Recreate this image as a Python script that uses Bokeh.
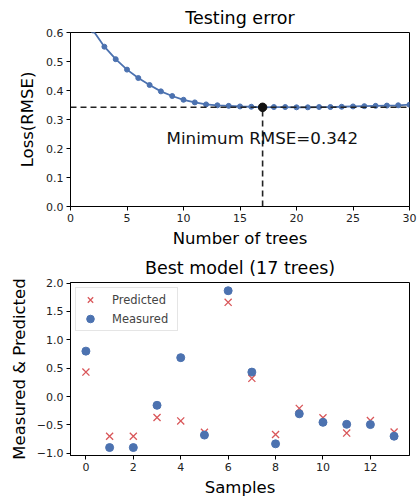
from bokeh.plotting import figure
from bokeh.layouts import column
from bokeh.models import FixedTicker, Legend, LegendItem
from bokeh.embed import file_html
from bokeh.resources import INLINE
from bokeh.core.properties import value

# ---- data ----
trees = list(range(1, 31))
rmse = [0.660, 0.607, 0.551, 0.508, 0.472, 0.443, 0.419, 0.397, 0.381, 0.368,
        0.359, 0.352, 0.349, 0.347, 0.345, 0.344, 0.342, 0.343, 0.343, 0.342,
        0.342, 0.343, 0.343, 0.344, 0.345, 0.346, 0.347, 0.348, 0.349, 0.351]
best_trees = 17
best_rmse = 0.342

samples = list(range(14))
measured = [0.80, -0.90, -0.90, -0.155, 0.685, -0.68, 1.865, 0.43, -0.834,
            -0.305, -0.455, -0.49, -0.495, -0.70]
predicted = [0.43, -0.70, -0.70, -0.37, -0.43, -0.63, 1.66, 0.32, -0.67,
             -0.21, -0.375, -0.645, -0.425, -0.625]

top_xticks = [0, 5, 10, 15, 20, 25, 30]
top_yticks = [0.0, 0.1, 0.2, 0.3, 0.4, 0.5, 0.6]
bot_xticks = [0, 2, 4, 6, 8, 10, 12]
bot_yticks = [-1.0, -0.5, 0.0, 0.5, 1.0, 1.5, 2.0]

FONT = "DejaVu Sans"
BLUE = "#4c72b0"
RED = "#d9575a"


def style(p):
    p.title.text_font = FONT
    p.title.text_font_size = "17.5px"
    p.title.text_font_style = "normal"
    p.title.align = "center"
    p.title.text_color = "#000000"
    p.outline_line_color = "#000000"
    p.outline_line_width = 1
    p.xgrid.visible = False
    p.ygrid.visible = False
    p.background_fill_color = "white"
    p.border_fill_color = "white"
    for ax in (p.xaxis, p.yaxis):
        ax.axis_line_color = "#000000"
        ax.major_tick_out = 4
        ax.major_tick_in = 0
        ax.minor_tick_line_color = None
        ax.major_label_text_font = FONT
        ax.major_label_text_font_size = "11px"
        ax.major_label_text_color = "#222222"
        ax.axis_label_text_font = FONT
        ax.axis_label_text_font_size = "16.5px"
        ax.axis_label_text_font_style = "normal"
        ax.axis_label_text_color = "#000000"
        ax.major_label_standoff = 3


def fmt(v):
    s = "%.1f" % v
    return s.replace("-", "\u2212")


# ---- top figure ----
p1 = figure(width=419, height=250, x_range=(0, 30), y_range=(0.0, 0.6),
            output_backend="svg", toolbar_location=None,
            title="Testing error",
            min_border_left=70, min_border_right=10,
            min_border_top=30, min_border_bottom=44)
style(p1)
p1.xaxis.ticker = FixedTicker(ticks=top_xticks)
p1.yaxis.ticker = FixedTicker(ticks=top_yticks)
p1.yaxis.major_label_overrides = {t: fmt(t) for t in top_yticks}
p1.xaxis.axis_label = "Number of trees"
p1.yaxis.axis_label = "Loss(RMSE)"
p1.xaxis.axis_label_standoff = 4
p1.yaxis.axis_label_standoff = 6

p1.line(trees, rmse, line_color=BLUE, line_width=1.8)
p1.scatter(trees, rmse, size=5, fill_color=BLUE, line_color=BLUE)
p1.line([0, 30], [best_rmse, best_rmse], line_color="#222222", line_width=1.6,
        line_dash="6 4")
p1.line([best_trees, best_trees], [0, best_rmse], line_color="#222222",
        line_width=1.6, line_dash="6 4")
p1.scatter([best_trees], [best_rmse], size=8.5, fill_color="#111111",
           line_color="#111111")
p1.text([8.5], [0.236], text=["Minimum RMSE=%.3f" % best_rmse],
        text_font=value(FONT), text_font_size="16.7px",
        text_baseline="alphabetic", text_align="left", text_color="#111111")

# ---- bottom figure ----
p2 = figure(width=419, height=249, x_range=(-0.65, 13.65), y_range=(-1.04, 2.01),
            output_backend="svg", toolbar_location=None,
            title="Best model (17 trees)",
            min_border_left=70, min_border_right=10,
            min_border_top=32, min_border_bottom=43)
style(p2)
p2.xaxis.ticker = FixedTicker(ticks=bot_xticks)
p2.yaxis.ticker = FixedTicker(ticks=bot_yticks)
p2.yaxis.major_label_overrides = {t: fmt(t) for t in bot_yticks}
p2.xaxis.axis_label = "Samples"
p2.yaxis.axis_label = "Measured & Predicted"
p2.xaxis.axis_label_standoff = 4
p2.yaxis.axis_label_standoff = 5

r_pred = p2.scatter(samples, predicted, marker="x", size=10, line_color=RED,
                    line_width=1.3)
r_meas = p2.scatter(samples, measured, marker="circle", size=8,
                    fill_color=BLUE, line_color=BLUE)

legend = Legend(items=[LegendItem(label="Predicted", renderers=[r_pred]),
                       LegendItem(label="Measured", renderers=[r_meas])],
                location="top_left")
legend.label_text_font = FONT
legend.label_text_font_size = "11.5px"
legend.border_line_color = "#cccccc"
legend.border_line_width = 1
legend.margin = 5
legend.padding = 2
legend.spacing = 0
legend.glyph_width = 24
legend.glyph_height = 19
legend.label_standoff = 10
legend.label_width = 63
p2.add_layout(legend)

layout = column(p1, p2, spacing=0)
open("out.html", "w").write(file_html(layout, INLINE))
